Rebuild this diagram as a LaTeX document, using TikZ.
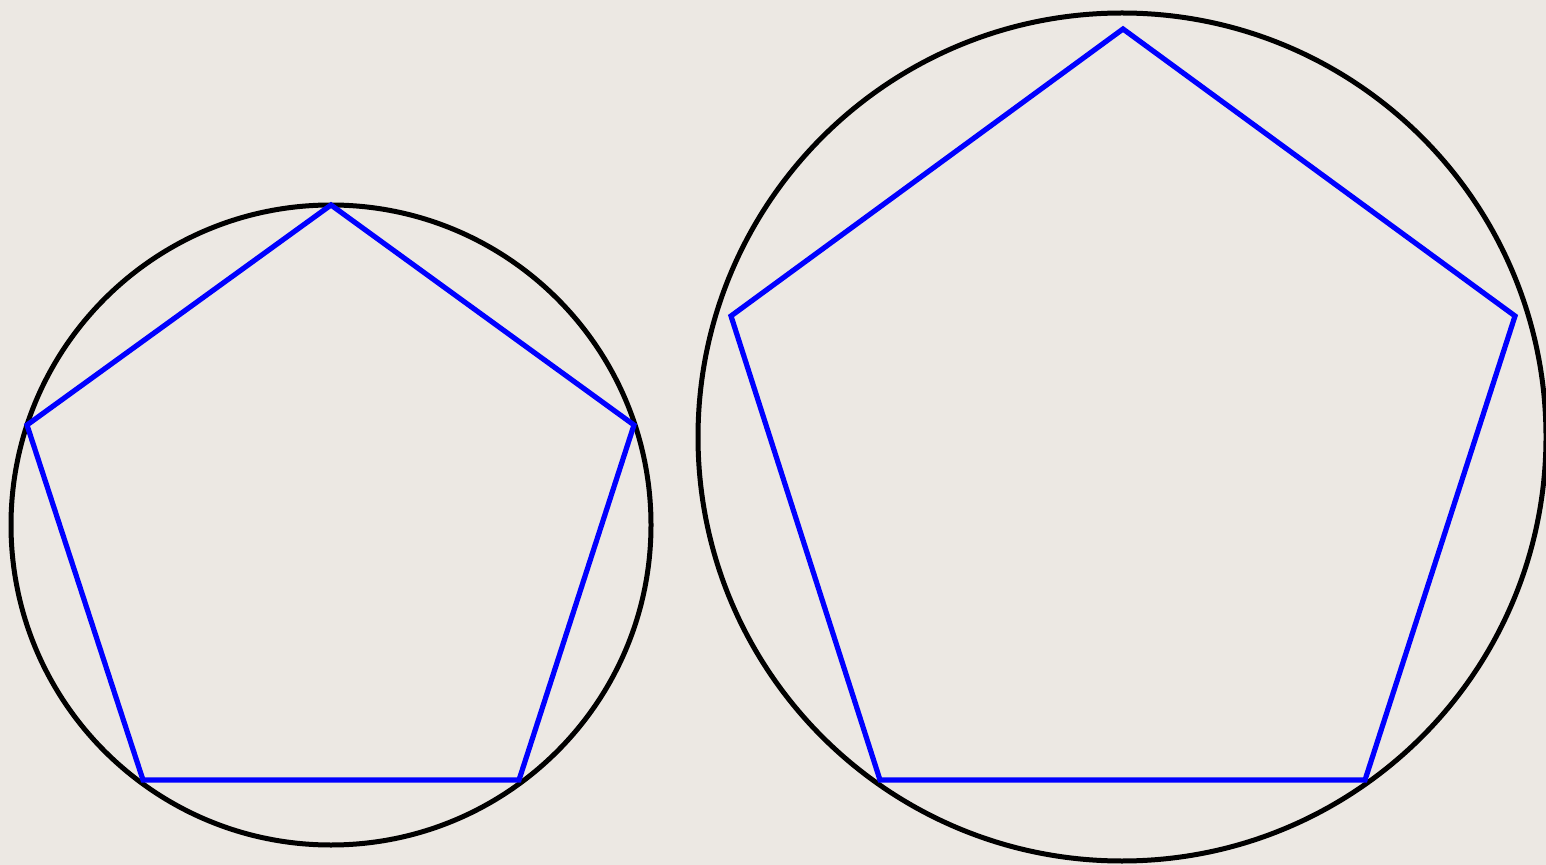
\documentclass[tikz,border=0pt]{standalone}
\definecolor{bgc}{RGB}{236,232,227}
\definecolor{pent}{RGB}{0,0,255}
\begin{document}
\begin{tikzpicture}[x=0.5pt,y=-0.5pt,
  circ/.style={draw=black,line width=2.5pt},
  pentagon/.style={draw=pent,line width=2.6pt,line join=miter}]
\useasboundingbox (0,0) rectangle (1546,865);
\clip (0,0) rectangle (1546,865);
\fill[bgc] (0,0) rectangle (1546,865);
% left
\draw[circ] (331,525) circle[radius=320];
\draw[pentagon] (331,205) -- (634,425) -- (519,780) -- (143,780) -- (27,425) -- cycle;
% right
\draw[circ] (1122,437) circle[radius=424];
\draw[pentagon] (1123,29) -- (1515,316) -- (1365,780) -- (880,780) -- (731,316) -- cycle;
\end{tikzpicture}
\end{document}
